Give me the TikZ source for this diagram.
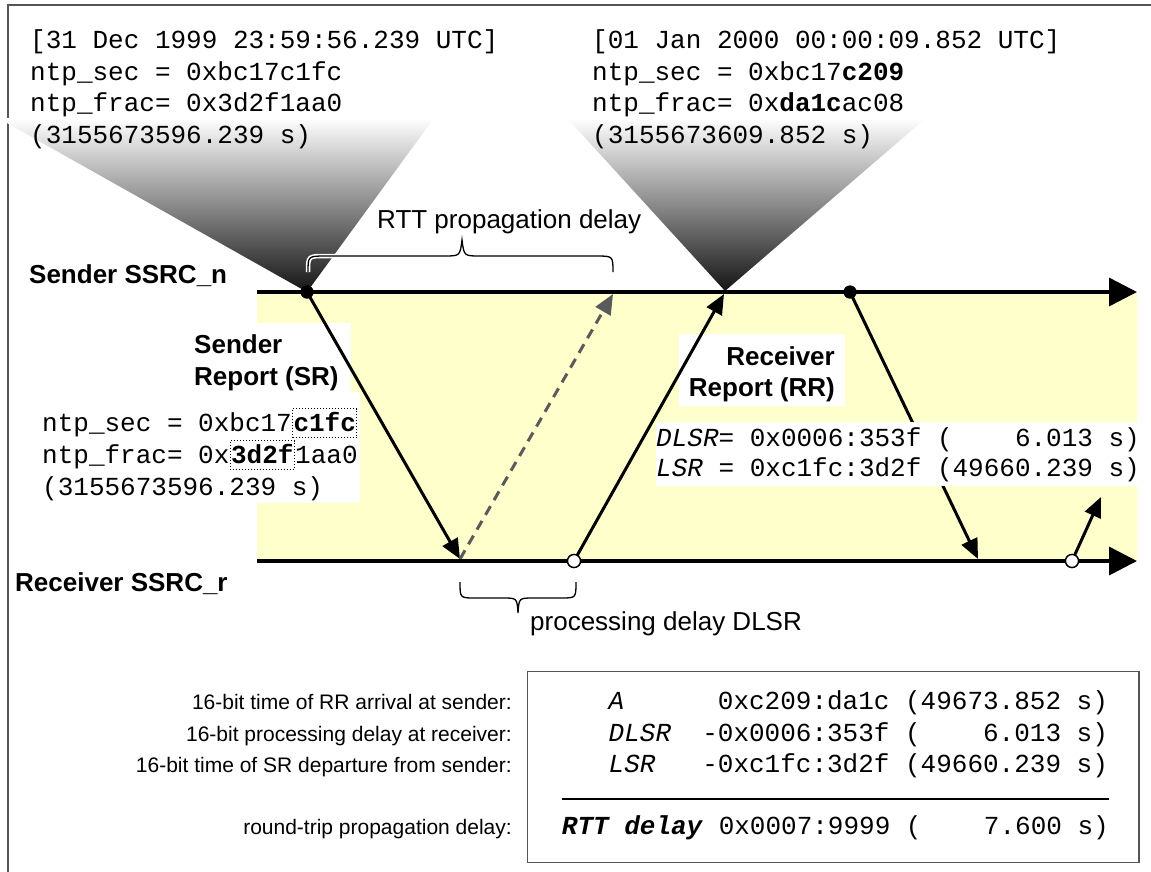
\documentclass[tikz,border=0pt]{standalone}
\usepackage{fontspec}
\setmainfont{Liberation Sans}
\newfontfamily\ntpmono{Liberation Mono}[WordSpace={1,0,0}]
\usetikzlibrary{arrows.meta}
\definecolor{bgyellow}{HTML}{FFFFCC}
\definecolor{framegray}{HTML}{555555}
\definecolor{dashgray}{HTML}{5A5A5A}
\tikzset{
  mono/.style={font=\ntpmono\fontsize{26}{31}\selectfont, inner sep=0pt, anchor=base west},
  monobox/.style={mono, draw, dotted, line width=1pt, inner xsep=1pt, inner ysep=0pt, text height=23pt, text depth=6pt},
  boldlbl/.style={font=\fontsize{26}{31}\selectfont\bfseries, inner sep=0pt, anchor=base west},
  plainlbl/.style={font=\fontsize{26}{31}\selectfont, inner sep=0pt, anchor=base west},
  smalllbl/.style={font=\fontsize{21}{25}\selectfont, inner sep=0pt, anchor=base east},
  axisline/.style={line width=3.5pt, -{Triangle[length=28pt,width=28pt]}},
  msg/.style={line width=3pt, -{Triangle[length=20pt,width=17pt]}},
  dmsg/.style={line width=3pt, dashgray, dash pattern=on 10pt off 7pt, -{Triangle[length=20pt,width=17pt]}},
  dotfilled/.style={circle, fill=black, minimum size=13pt, inner sep=0pt},
  dotopen/.style={circle, fill=white, draw=black, line width=1.3pt, minimum size=13pt, inner sep=0pt},
  cone/.style={top color=white, middle color=black!36, bottom color=black!92},
  bracehalo/.style={white, line width=4.5pt},
  braceline/.style={black, line width=1.3pt},
  whitebox/.style={fill=white}
}
\begin{document}
\begin{tikzpicture}[x=1pt,y=-1pt]
\useasboundingbox (0,0) rectangle (1151,871);

% outer frame (cropped)
\draw[framegray, line width=1.3pt] (8,880) -- (8,5) -- (1160,5);

% gradient cones
\shade[cone] (-2,118) -- (434,118) -- (307,292) -- cycle;
\shade[cone] (567,118) -- (926,118) -- (725,291) -- cycle;

% yellow band
\fill[bgyellow] (257,292) rectangle (1137,561);

% arrow passing under the RR value box
\coordinate (ra2) at (978,559);
\node[dotfilled] (sd2) at (850,292) {};
\draw[msg] (sd2.center) -- (ra2);

% white label backgrounds
\fill[whitebox] (180,323) rectangle (351,392);
\fill[whitebox] (30,392) rectangle (360,503);
\fill[whitebox] (679,334) rectangle (845,406);
\fill[whitebox] (656,422) rectangle (1137,486);

% top-left timestamp
\node[mono] (tl1) at (30,48.3) {[31~Dec~1999~23:59:56.239~UTC]};
\node[mono] (tl2) at (30,80) {ntp\_sec~=~0xbc17c1fc};
\node[mono] (tl3) at (30,111.7) {ntp\_frac=~0x3d2f1aa0};
\node[mono] (tl4) at (30,143.4) {(3155673596.239~s)};

% top-right timestamp
\node[mono] (tr1) at (592,48.3) {[01~Jan~2000~00:00:09.852~UTC]};
\node[mono] (tr2) at (592,80) {ntp\_sec~=~0xbc17\textbf{c209}};
\node[mono] (tr3) at (592,111.7) {ntp\_frac=~0x\textbf{da1c}ac08};
\node[mono] (tr4) at (592,143.4) {(3155673609.852~s)};

% axis labels
\node[boldlbl] (sndlbl) at (29,283.3) {Sender SSRC\_n};
\node[boldlbl] (rcvlbl) at (15,591.7) {Receiver SSRC\_r};

% SR label and contents
\node[boldlbl] (sr1) at (194,353) {Sender};
\node[boldlbl] (sr2) at (194,385) {Report (SR)};
\node[mono] (srA) at (42,431.7) {ntp\_sec~=~0xbc17};
\node[monobox] (srB) at (srA.base east) {\bfseries c1fc};
\node[mono] (srC) at (42,463.5) {ntp\_frac=~0x};
\node[monobox] (srD) at (srC.base east) {\bfseries 3d2f};
\node[mono] (srE) at (srD.base east) {1aa0};
\node[mono] (srF) at (42,495.5) {(3155673596.239~s)};

% RR label and contents
\node[boldlbl, anchor=base east] (rr1) at (835,365) {Receiver};
\node[boldlbl, anchor=base east] (rr2) at (835,396) {Report (RR)};
\node[mono] (rrA) at (656,446.7) {\itshape DLSR\upshape=~0x0006:353f~(~~~~6.013~s)};
\node[mono] (rrB) at (656,476.7) {\itshape LSR\upshape~=~0xc1fc:3d2f~(49660.239~s)};

% message arrows
\node[dotfilled] (sd1) at (307,292) {};
\coordinate (ra1) at (460,559);
\coordinate (rtt) at (613,294);
\coordinate (sa1) at (724,294);
\coordinate (sa2) at (1101,497);
\draw[msg] (sd1.center) -- (ra1);
\draw[dmsg] (ra1) -- (rtt);
\node[dotopen] (rd1) at (574,561) {};
\node[dotopen] (rd2) at (1072,561) {};
\draw[msg] (rd1.center) -- (sa1);
\draw[msg] (rd2.center) -- (sa2);

% time axes
\coordinate (sL) at (257,292);
\coordinate (sR) at (1137,292);
\coordinate (rL) at (257,561);
\coordinate (rR) at (1137,561);
\draw[axisline] (sL) -- (sR);
\draw[axisline] (rL) -- (rR);
\node[dotfilled] at (sd1.center) {};
\node[dotfilled] at (sd2.center) {};
\node[dotopen] at (rd1.center) {};
\node[dotopen] at (rd2.center) {};

% RTT brace
\coordinate (b1a) at (308,272);
\coordinate (b1m) at (462,240);
\coordinate (b1b) at (613,272);
\foreach \st in {bracehalo,braceline}{
\draw[\st] (b1a) .. controls (308,256) .. (326,256) -- (444,256)
  .. controls (460,256) .. (b1m) .. controls (464,256) .. (480,256)
  -- (596,256) .. controls (613,256) .. (b1b);
}
\node[plainlbl] (rttlbl) at (377,228) {RTT propagation delay};

% processing brace
\coordinate (b2a) at (460,582);
\coordinate (b2m) at (518,613);
\coordinate (b2b) at (576,582);
\draw[braceline] (b2a) .. controls (460,598) .. (475,598) -- (503,598)
  .. controls (517,598) .. (b2m) .. controls (519,598) .. (533,598)
  -- (561,598) .. controls (576,598) .. (b2b);
\node[plainlbl] (proclbl) at (530,630) {processing delay DLSR};

% computation table
\node[draw=framegray, line width=1.3pt, minimum width=611.6pt, minimum height=190.7pt, anchor=north west, inner sep=0pt] (tbl) at (526.7,671) {};
\node[mono] (row1) at (561.7,709.3) {~~~\textit{A}~~~~~~0xc209:da1c~(49673.852~s)};
\node[mono] (row2) at (561.7,741) {~~~\textit{DLSR}~~-0x0006:353f~(~~~~6.013~s)};
\node[mono] (row3) at (561.7,772.7) {~~~\textit{LSR}~~~-0xc1fc:3d2f~(49660.239~s)};
\node[mono] (row4) at (561.7,834.3) {\textbf{\textit{RTT~delay}}~0x0007:9999~(~~~~7.600~s)};
\coordinate (ruleL) at (561.7,799.3);
\coordinate (ruleR) at (1109,799.3);
\draw[line width=2pt] (ruleL) -- (ruleR);

\node[smalllbl] (l1) at (512,709.3) {16-bit time of RR arrival at sender:};
\node[smalllbl] (l2) at (512,741) {16-bit processing delay at receiver:};
\node[smalllbl] (l3) at (512,772.7) {16-bit time of SR departure from sender:};
\node[smalllbl] (l4) at (512,834.3) {round-trip propagation delay:};
\end{tikzpicture}
\end{document}
